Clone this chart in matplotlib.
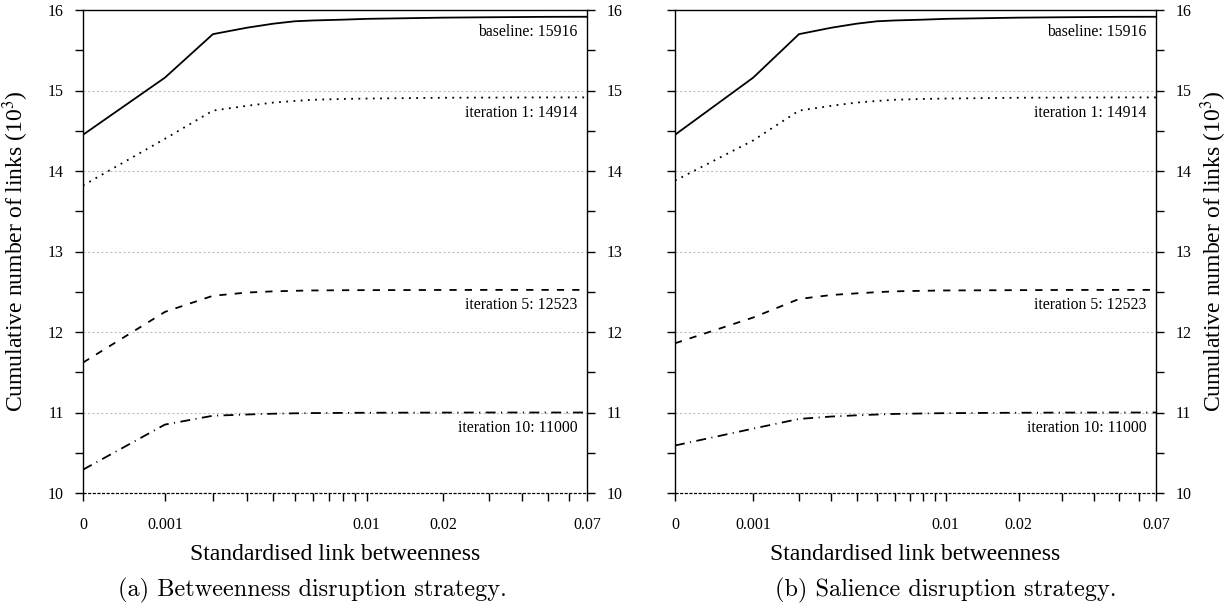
import numpy as np
import matplotlib
matplotlib.use("Agg")
import matplotlib.pyplot as plt
from matplotlib.ticker import FixedLocator, FixedFormatter

# ---------------- data ----------------
x_vals = [0, 0.001, 0.002, 0.003, 0.004, 0.005, 0.006, 0.008, 0.01, 0.02, 0.03, 0.05, 0.07]

# (a) Betweenness disruption strategy (values in 10^3 links)
a_baseline = [14.45, 15.16, 15.70, 15.78, 15.83, 15.86, 15.87, 15.88, 15.89, 15.905, 15.91, 15.915, 15.916]
a_iter1 = [13.82, 14.40, 14.75, 14.81, 14.85, 14.87, 14.885, 14.895, 14.90, 14.91, 14.912, 14.914, 14.914]
a_iter5 = [11.62, 12.25, 12.45, 12.49, 12.505, 12.512, 12.516, 12.519, 12.52, 12.522, 12.523, 12.523, 12.523]
a_iter10 = [10.29, 10.85, 10.96, 10.975, 10.985, 10.99, 10.993, 10.995, 10.997, 10.999, 11.0, 11.0, 11.0]

# (b) Salience disruption strategy
b_baseline = [14.45, 15.16, 15.70, 15.78, 15.83, 15.86, 15.87, 15.88, 15.89, 15.905, 15.91, 15.915, 15.916]
b_iter1 = [13.88, 14.38, 14.75, 14.81, 14.85, 14.87, 14.885, 14.895, 14.90, 14.91, 14.912, 14.914, 14.914]
b_iter5 = [11.86, 12.18, 12.41, 12.46, 12.48, 12.495, 12.505, 12.512, 12.516, 12.52, 12.522, 12.523, 12.523]
b_iter10 = [10.59, 10.80, 10.92, 10.95, 10.965, 10.975, 10.982, 10.988, 10.992, 10.997, 10.999, 11.0, 11.0]

series_labels = ["baseline: 15916", "iteration 1: 14914", "iteration 5: 12523", "iteration 10: 11000"]
final_values = [15.916, 14.914, 12.523, 11.000]

xtick_vals = [0, 0.001, 0.01, 0.02, 0.07]
xtick_labels = ["0", "0.001", "0.01", "0.02", "0.07"]
xminor_vals = [0.002, 0.003, 0.004, 0.005, 0.006, 0.007, 0.008, 0.009, 0.03, 0.04, 0.05, 0.06]
ytick_vals = [10, 11, 12, 13, 14, 15, 16]
yminor_vals = [10.5, 11.5, 12.5, 13.5, 14.5, 15.5]

captions = ["(a) Betweenness disruption strategy.", "(b) Salience disruption strategy."]

# ---------------- style ----------------
plt.rcParams['font.family'] = ['Liberation Serif', 'DejaVu Serif']
plt.rcParams['mathtext.fontset'] = 'stix'

LW = 1.3
styles = [
    dict(linestyle='-'),
    dict(linestyle=(0, (1, 3))),
    dict(linestyle=(0, (4, 4.5))),
    dict(linestyle=(0, (5.5, 3, 0.6, 3))),
]

def fwd(x):
    return np.log10(np.asarray(x, dtype=float) + 0.001)

def inv(y):
    return 10 ** np.asarray(y, dtype=float) - 0.001

fig = plt.figure(figsize=(12.28, 6.08), dpi=100)
ax_a = fig.add_axes([83 / 1228, 1 - 493 / 608, 504 / 1228, 483 / 608])
ax_b = fig.add_axes([675 / 1228, 1 - 493 / 608, 481 / 1228, 483 / 608])

panels = [
    (ax_a, [a_baseline, a_iter1, a_iter5, a_iter10], True),
    (ax_b, [b_baseline, b_iter1, b_iter5, b_iter10], False),
]

for i, (ax, series, is_left) in enumerate(panels):
    ax.set_xscale('function', functions=(fwd, inv))
    ax.set_xlim(0, 0.07)
    ax.set_ylim(10, 16)

    # grid
    for yv in ytick_vals[1:-1]:
        ax.axhline(yv, color='#c0c0c0', lw=0.8, linestyle=(0, (2, 2)), zorder=0)
    ax.axhline(10, color='black', lw=0.9, linestyle=(0, (2.5, 1.2)), zorder=1, clip_on=False)
    ax.spines['bottom'].set_visible(False)
    for s in ['top', 'left', 'right']:
        ax.spines[s].set_linewidth(1.0)

    for vals, st in zip(series, styles):
        ax.plot(x_vals, vals, color='black', lw=LW, zorder=3, **st)

    for lab, fv in zip(series_labels, final_values):
        ax.annotate(lab, xy=(1.0, fv), xycoords=('axes fraction', 'data'),
                    xytext=(-7, -11), textcoords='offset points',
                    ha='right', va='center', fontsize=11.3)

    ax.xaxis.set_major_locator(FixedLocator(xtick_vals))
    ax.xaxis.set_major_formatter(FixedFormatter(xtick_labels))
    ax.xaxis.set_minor_locator(FixedLocator(xminor_vals))
    ax.yaxis.set_major_locator(FixedLocator(ytick_vals))
    ax.yaxis.set_minor_locator(FixedLocator(yminor_vals))
    ax.tick_params(axis='x', which='both', direction='out', length=6, width=1.0,
                   labelsize=11.5, pad=11, top=False)
    ax.tick_params(axis='y', which='both', direction='out', length=6, width=1.0,
                   labelsize=11.5, left=True, right=True, pad=8,
                   labelleft=is_left, labelright=True)

    ax.set_xlabel("Standardised link betweenness", fontsize=17)
    ax.xaxis.set_label_coords(0.5, -0.105)
    ax.set_ylabel(r"Cumulative number of links (10$^3$)", fontsize=17)
    if is_left:
        ax.yaxis.set_label_position('left')
        ax.yaxis.set_label_coords(-0.104, 0.5)
    else:
        ax.yaxis.set_label_position('right')
        ax.yaxis.set_label_coords(1.088, 0.5)

fig.text(312 / 1228, 1 - 590 / 608, captions[0], ha='center', va='center',
         fontsize=17.5, family='cmr10')
fig.text(946 / 1228, 1 - 590 / 608, captions[1], ha='center', va='center',
         fontsize=17.5, family='cmr10')

fig.savefig("out.png", dpi=100)
